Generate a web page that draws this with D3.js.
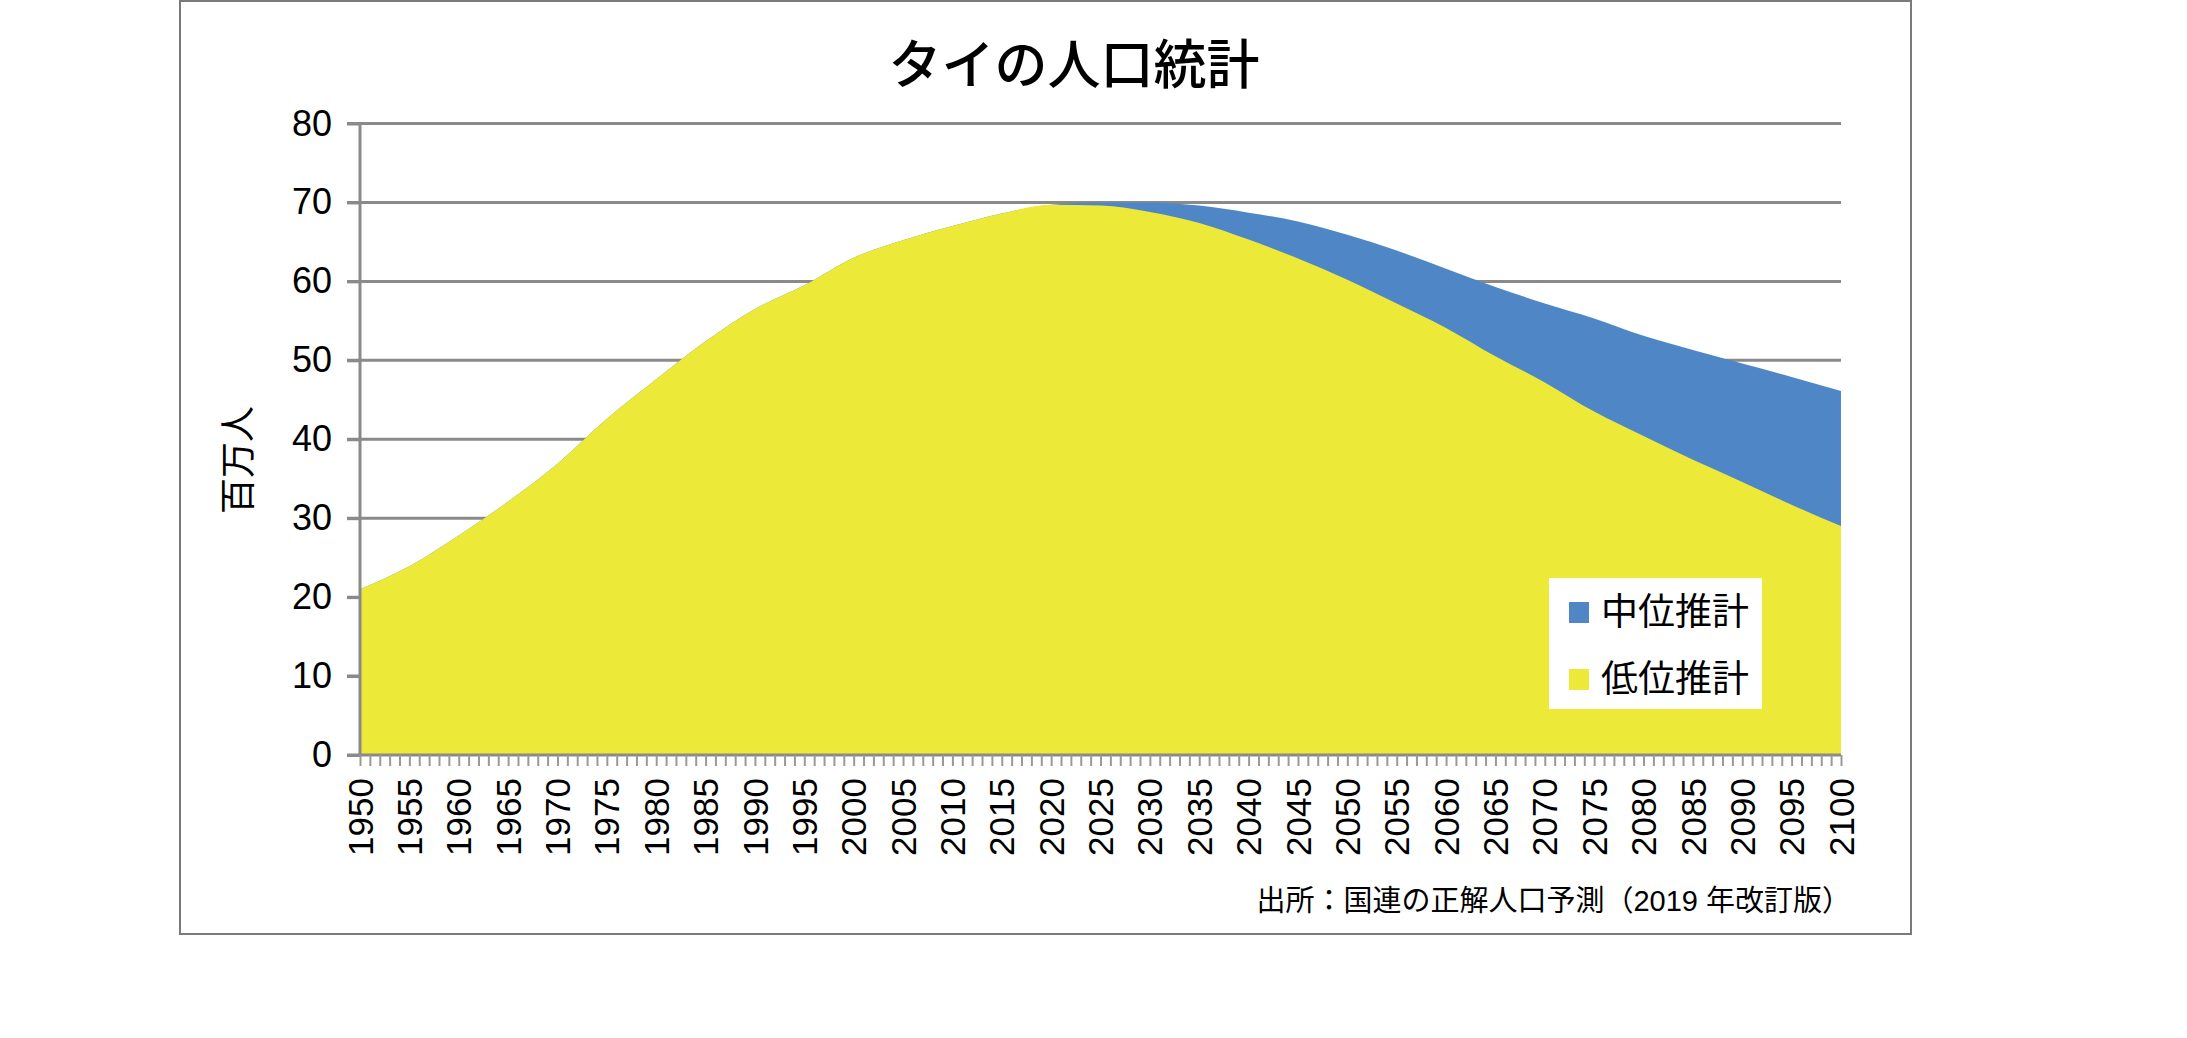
<html>
  <head>
    <meta charset="utf-8">
    <script src="https://cdn.jsdelivr.net/npm/d3@7/dist/d3.min.js"></script>
    <style>
      body { margin: 0; background: #fff; }
      text { font-family: "Liberation Sans", Arial, sans-serif; fill: #000; }
      .jp { font-family: "Noto Sans CJK JP", sans-serif; }
      .mix { font-family: "Liberation Sans", "Noto Sans CJK JP", sans-serif; }
    </style>
  </head>
  <body>
    <script>
      var W = 2187, H = 1038;

      // data (millions)
      var years = [1950, 1955, 1960, 1965, 1970, 1975, 1980, 1985, 1990, 1995,
                   2000, 2005, 2010, 2015, 2020, 2025, 2030, 2035, 2040, 2045,
                   2050, 2055, 2060, 2065, 2070, 2075, 2080, 2085, 2090, 2095, 2100];
      var medium = [21.0, 23.9, 27.8, 32.1, 36.9, 42.6, 47.6, 52.4, 56.5, 59.5,
                    63.0, 65.2, 67.0, 68.6, 69.7, 70.0, 70.0, 69.6, 68.7, 67.6,
                    65.9, 63.9, 61.6, 59.3, 57.2, 55.3, 53.1, 51.3, 49.6, 47.9, 46.1];
      var low = [21.0, 23.9, 27.8, 32.1, 36.9, 42.6, 47.6, 52.4, 56.5, 59.5,
                 63.0, 65.2, 67.0, 68.6, 69.7, 69.6, 68.8, 67.4, 65.3, 62.9,
                 60.2, 57.2, 54.1, 50.5, 47.2, 43.5, 40.4, 37.4, 34.6, 31.7, 29.0];
      var yTicks = [0, 10, 20, 30, 40, 50, 60, 70, 80];
      var seriesNames = ["中位推計", "低位推計"];
      var colors = ["#4f87c6", "#ede939"];

      var svg = d3.select("body").append("svg")
                  .attr("width", W)
                  .attr("height", H);

      // outer frame
      svg.append("rect")
         .attr("x", 180).attr("y", 1)
         .attr("width", 1731).attr("height", 933)
         .attr("fill", "#fff")
         .attr("stroke", "#7a7a7a")
         .attr("stroke-width", 2);

      var x = d3.scaleLinear().domain([1950, 2100]).range([360, 1841]);
      var y = d3.scaleLinear().domain([0, 80]).range([755, 123.5]);

      // gridlines
      svg.append("g").selectAll("line")
         .data(yTicks.filter(function(d){ return d > 0; }))
         .enter().append("line")
           .attr("x1", 347).attr("x2", 1841)
           .attr("y1", function(d){ return y(d); })
           .attr("y2", function(d){ return y(d); })
           .attr("stroke", "#8a8a8a")
           .attr("stroke-width", 3);

      // areas: medium behind, low in front
      var data = years.map(function(yr, i){ return {year: yr, m: medium[i], l: low[i]}; });
      var areaM = d3.area().x(function(d){ return x(d.year); })
                    .y0(y(0)).y1(function(d){ return y(d.m); })
                    .curve(d3.curveMonotoneX);
      var areaL = d3.area().x(function(d){ return x(d.year); })
                    .y0(y(0)).y1(function(d){ return y(d.l); })
                    .curve(d3.curveMonotoneX);
      svg.append("path").attr("d", areaM(data)).attr("fill", colors[0]);
      svg.append("path").attr("d", areaL(data)).attr("fill", colors[1]);

      // y axis
      var yAxis = svg.append("g")
         .attr("transform", "translate(360,0)")
         .call(d3.axisLeft(y).tickValues(yTicks).tickSize(13).tickPadding(15));
      yAxis.select(".domain").attr("stroke", "#8a8a8a").attr("stroke-width", 3)
           .attr("d", "M0," + y(80) + "V" + (y(0) + 2));
      yAxis.selectAll(".tick line").attr("stroke", "#8a8a8a").attr("stroke-width", 3);
      yAxis.selectAll(".tick text")
           .attr("font-size", 36)
           .attr("font-family", "Liberation Sans, Arial, sans-serif")
           .attr("fill", "#000");

      // x axis: yearly minor ticks
      var xAxis = svg.append("g")
         .attr("transform", "translate(0," + y(0) + ")")
         .call(d3.axisBottom(x).tickValues(d3.range(1950, 2101)).tickSize(11).tickFormat(""));
      xAxis.select(".domain").attr("stroke", "#8a8a8a").attr("stroke-width", 3)
           .attr("d", "M347,0H1841");
      xAxis.selectAll(".tick line").attr("stroke", "#999").attr("stroke-width", 2);

      // x labels, rotated
      svg.append("g").selectAll("text")
         .data(years)
         .enter().append("text")
           .text(function(d){ return d; })
           .attr("transform", function(d){ return "translate(" + x(d) + ",778) rotate(-90)"; })
           .attr("text-anchor", "end")
           .attr("dy", "0.36em")
           .attr("font-size", 35);

      // y axis title
      svg.append("text")
         .attr("class", "jp")
         .text("百万人")
         .attr("transform", "translate(238,460) rotate(-90)")
         .attr("text-anchor", "middle")
         .attr("dy", "0.36em")
         .attr("font-size", 36);

      // title
      svg.append("text")
         .attr("class", "jp")
         .text("タイの人口統計")
         .attr("x", 1074).attr("y", 65)
         .attr("text-anchor", "middle")
         .attr("dy", "0.36em")
         .attr("font-size", 53)
         .attr("font-weight", 500);

      // legend
      var lg = svg.append("g");
      lg.append("rect").attr("x", 1549).attr("y", 578)
        .attr("width", 213).attr("height", 131).attr("fill", "#fff");
      seriesNames.forEach(function(name, i){
        var cy = 612 + i * 67;
        lg.append("rect").attr("x", 1569).attr("y", cy - 10)
          .attr("width", 20).attr("height", 21).attr("fill", colors[i]);
        lg.append("text").attr("class", "jp").text(name)
          .attr("x", 1601).attr("y", cy)
          .attr("dy", "0.36em")
          .attr("font-size", 37);
      });

      // source
      svg.append("text")
         .attr("class", "mix")
         .text("出所：国連の正解人口予測（2019 年改訂版）")
         .attr("x", 1851).attr("y", 901)
         .attr("text-anchor", "end")
         .attr("dy", "0.36em")
         .attr("font-size", 29);
    </script>
  </body>
</html>
